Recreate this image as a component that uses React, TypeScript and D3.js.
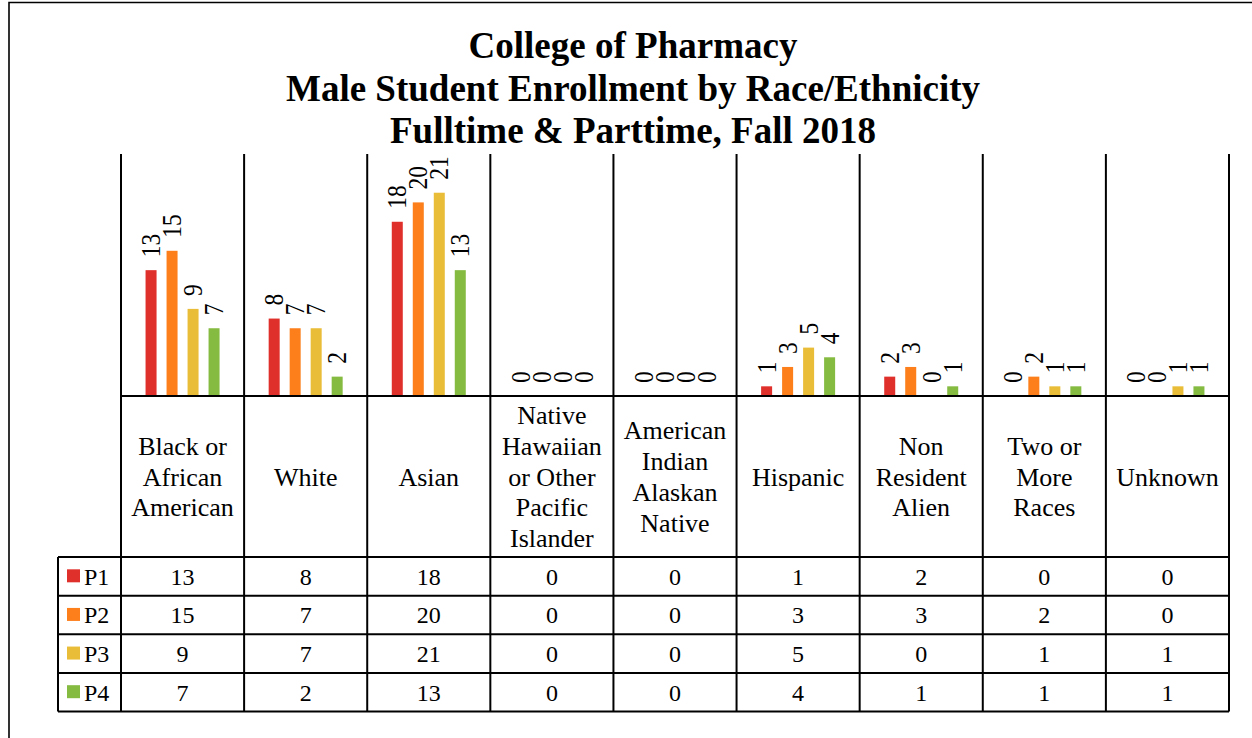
import React from "react";
import * as d3 from "d3";

const width = 1252;
const height = 738;

// chart data
const categories = [
  "Black or African American",
  "White",
  "Asian",
  "Native Hawaiian or Other Pacific Islander",
  "American Indian Alaskan Native",
  "Hispanic",
  "Non Resident Alien",
  "Two or More Races",
  "Unknown",
];
const categoryLines = [
  ["Black or", "African", "American"],
  ["White"],
  ["Asian"],
  ["Native", "Hawaiian", "or Other", "Pacific", "Islander"],
  ["American", "Indian", "Alaskan", "Native"],
  ["Hispanic"],
  ["Non", "Resident", "Alien"],
  ["Two or", "More", "Races"],
  ["Unknown"],
];
const seriesNames = ["P1", "P2", "P3", "P4"];
const p1 = [13, 8, 18, 0, 0, 1, 2, 0, 0];
const p2 = [15, 7, 20, 0, 0, 3, 3, 2, 0];
const p3 = [9, 7, 21, 0, 0, 5, 0, 1, 1];
const p4 = [7, 2, 13, 0, 0, 4, 1, 1, 1];
const seriesValues = [p1, p2, p3, p4];
const seriesColors = ["#E0302B", "#FC7F1C", "#EABD38", "#85BB41"];
const titleLines = [
  "College of Pharmacy",
  "Male Student Enrollment by Race/Ethnicity",
  "Fulltime & Parttime, Fall 2018",
];

const font = '"Liberation Serif", "Times New Roman", serif';

// layout
const plotTop = 154;
const plotBottom = 396;
const catBottom = 557;
const tableBottom = 711.5;
const left = 121;
const right = 1229;
const legendLeft = 58;

const x0 = d3.scaleBand<string>().domain(categories).range([left, right]);
const x1 = d3
  .scaleBand<string>()
  .domain(seriesNames)
  .range([-42, 42])
  .paddingInner(0.476)
  .paddingOuter(0.238);
const y = d3.scaleLinear().domain([0, 25]).range([plotBottom, plotTop]);
const rowY = d3.scaleBand<string>().domain(seriesNames).range([catBottom, tableBottom]);

const lineColor = "#000";

export default function App() {
  const bounds = [...categories.map((c) => x0(c)!), right];
  const lineH = 30.8;
  const catMid = (plotBottom + catBottom) / 2;

  return (
    <svg
      width={width}
      height={height}
      style={{ position: "absolute", left: 0, top: 0, background: "#fff" }}
      fontFamily={font}
    >
      <rect width={width} height={height} fill="#fff" />
      {/* outer frame */}
      <path d={`M9,${height + 2}V2.5H${width + 2}`} fill="none" stroke="#000" strokeWidth={1.6} />

      {/* title */}
      <g fontWeight="bold" fontSize={37} textAnchor="middle">
        {titleLines.map((t, i) => (
          <text key={t} x={633} y={58 + i * 42.5}>
            {t}
          </text>
        ))}
      </g>

      {/* bars and labels */}
      {categories.map((c, ci) => {
        const cx = x0(c)! + x0.bandwidth() / 2;
        return (
          <g key={c}>
            {seriesNames.map((s, si) => {
              const v = seriesValues[si][ci];
              const bx = cx + x1(s)!;
              const lx = bx + x1.bandwidth() / 2;
              const ly = y(v) - 13;
              return (
                <g key={s}>
                  {v > 0 && (
                    <rect
                      x={bx}
                      y={y(v)}
                      width={x1.bandwidth()}
                      height={plotBottom - y(v)}
                      fill={seriesColors[si]}
                    />
                  )}
                  <text
                    transform={`translate(${lx},${ly}) rotate(-90) scale(1,1.15)`}
                    fontSize={23.5}
                    dy="0.34em"
                    textAnchor="start"
                  >
                    {v}
                  </text>
                </g>
              );
            })}
          </g>
        );
      })}

      {/* grid of the data table */}
      <g stroke={lineColor} strokeWidth={2}>
        {bounds.map((bx, i) => (
          <line key={i} x1={bx} x2={bx} y1={plotTop} y2={tableBottom} />
        ))}
        <line x1={left} x2={right} y1={plotBottom} y2={plotBottom} />
        <line x1={legendLeft} x2={legendLeft} y1={catBottom} y2={tableBottom} />
        {[...seriesNames.map((s) => rowY(s)!), tableBottom].map((ry, i) => (
          <line key={i} x1={legendLeft} x2={right} y1={ry} y2={ry} />
        ))}
      </g>

      {/* category labels */}
      <g fontSize={26} textAnchor="middle">
        {categories.map((c, ci) => {
          const lines = categoryLines[ci];
          const cx = x0(c)! + x0.bandwidth() / 2;
          const start = catMid - ((lines.length - 1) * lineH) / 2;
          return (
            <text key={c}>
              {lines.map((l, li) => (
                <tspan key={li} x={cx} y={start + li * lineH} dy="0.35em">
                  {l}
                </tspan>
              ))}
            </text>
          );
        })}
      </g>

      {/* table rows */}
      {seriesNames.map((s, si) => {
        const ry = rowY(s)! + rowY.bandwidth() / 2;
        return (
          <g key={s} fontSize={24}>
            <rect x={67} y={ry - 7} width={13} height={13} fill={seriesColors[si]} />
            <text x={84} y={ry} dy="0.35em">
              {s}
            </text>
            {categories.map((c, ci) => (
              <text
                key={c}
                x={x0(c)! + x0.bandwidth() / 2}
                y={ry}
                dy="0.35em"
                textAnchor="middle"
              >
                {seriesValues[si][ci]}
              </text>
            ))}
          </g>
        );
      })}
    </svg>
  );
}
